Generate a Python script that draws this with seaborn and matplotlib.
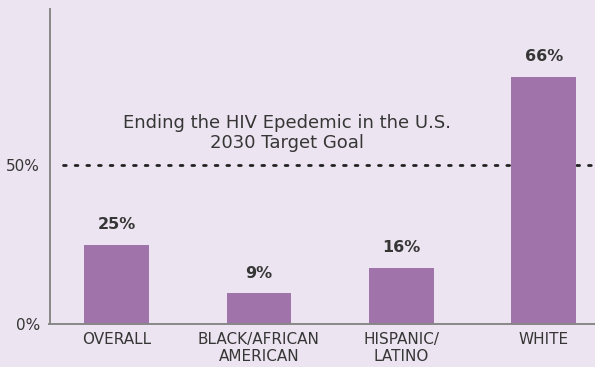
import matplotlib
matplotlib.use("Agg")
import matplotlib.pyplot as plt
import seaborn as sns
import pandas as pd

# bar heights as drawn, and the printed value labels
groups = ["OVERALL", "BLACK/AFRICAN\nAMERICAN", "HISPANIC/\nLATINO", "WHITE"]
bar_heights = [24.8, 9.5, 17.6, 77.8]
value_labels = ["25%", "9%", "16%", "66%"]
target = 50
target_text = "Ending the HIV Epedemic in the U.S.\n2030 Target Goal"

BG = "#ece4f0"
BAR = "#a074aa"
TXT = "#363636"

sns.set_theme(style="white")
plt.rcParams["font.family"] = ["DejaVu Sans"]

df = pd.DataFrame({"group": groups, "pct": bar_heights})

fig = plt.figure(figsize=(5.95, 3.67), dpi=100, facecolor=BG)
ax = fig.add_axes([49.5 / 595, 43.5 / 367, 1 - 49.5 / 595, (323.5 - 9) / 367])
ax.set_facecolor(BG)

# target line behind the bars
ax.plot([-0.375, 3.5], [target, target], linestyle=(0, (1, 3.2)), color="#222222",
        linewidth=2.0, zorder=1, dash_capstyle="round")

sns.barplot(data=df, x="group", y="pct", color=BAR, width=0.453, saturation=1,
            linewidth=0, ax=ax, zorder=2)

for i, (h, lab) in enumerate(zip(bar_heights, value_labels)):
    ax.annotate(lab, (i, h), xytext=(0, 9), textcoords="offset points",
                ha="center", va="bottom", fontsize=11.5, fontweight="bold", color=TXT)

ax.text(1.2, 60.0, target_text, ha="center", va="center", fontsize=13,
        color=TXT, linespacing=1.12)

ax.set_xlim(-0.47, 3.36)
ax.set_ylim(0, 99.2)
ax.set_yticks([0, 50])
ax.set_yticklabels(["0%", "50%"])
ax.set_xlabel("")
ax.set_ylabel("")
ax.tick_params(axis="both", length=0, colors=TXT)
ax.tick_params(axis="y", pad=7, labelsize=11)
ax.tick_params(axis="x", pad=6, labelsize=11)
for lab in ax.get_xticklabels():
    lab.set_linespacing(1.2)

for s in ["top", "right"]:
    ax.spines[s].set_visible(False)
for s in ["left", "bottom"]:
    ax.spines[s].set_color("#888888")
    ax.spines[s].set_linewidth(1.4)

fig.savefig("out.png", dpi=100, facecolor=BG)
